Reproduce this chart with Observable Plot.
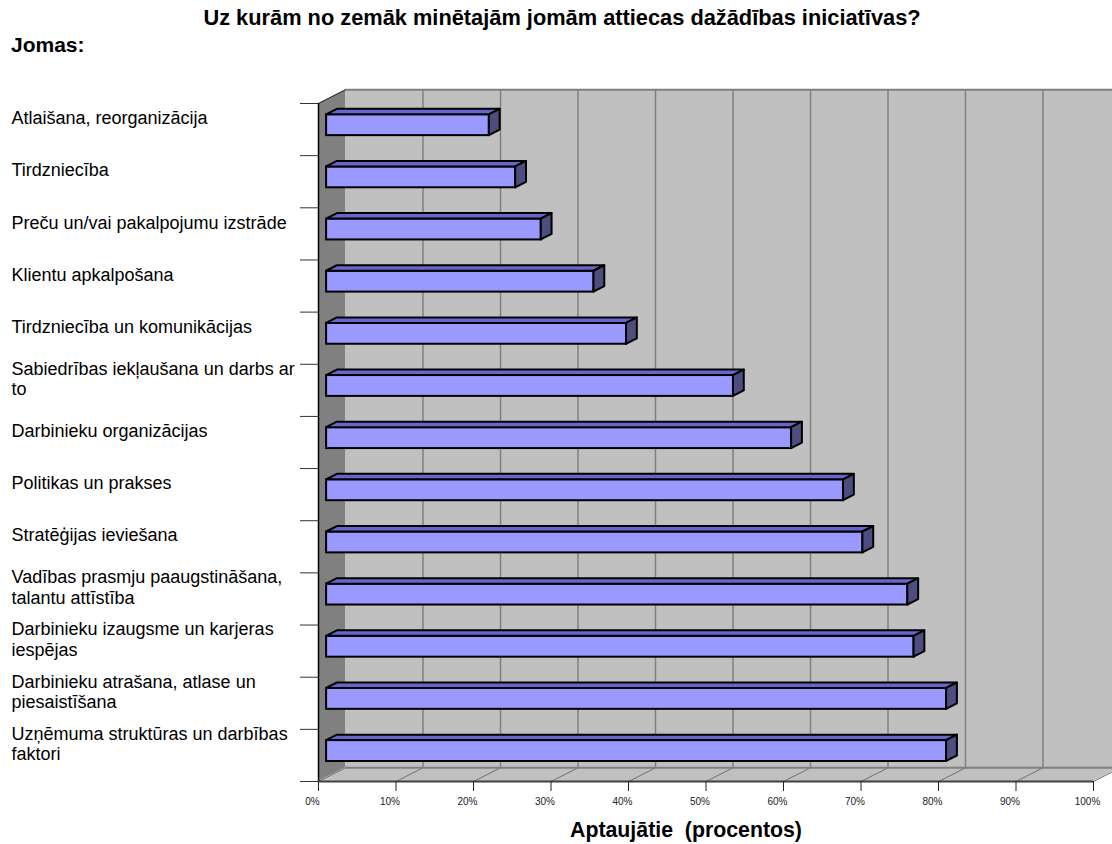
<!DOCTYPE html>
<html><head><meta charset="utf-8">
<script src="https://cdn.jsdelivr.net/npm/d3@7"></script>
<script src="https://cdn.jsdelivr.net/npm/@observablehq/plot@0.6"></script>
<style>
body{margin:0;background:#fff;font-family:"Liberation Sans",Arial,sans-serif;}
#wrap{position:relative;width:1112px;height:844px;overflow:hidden;}
#chart{position:absolute;left:0;top:0;}
#title{position:absolute;left:0;width:1124px;top:5px;text-align:center;font-weight:bold;font-size:21.8px;line-height:26px;}
#cat{position:absolute;left:11px;top:32px;font-weight:bold;font-size:21px;line-height:26px;}
#xlab{position:absolute;left:0;width:1372px;text-align:center;top:817px;font-weight:bold;font-size:21.3px;line-height:26px;white-space:pre;}
</style></head><body>
<div id="wrap">
<div id="chart"></div>
<div id="title">Uz kurām no zemāk minētajām jomām attiecas dažādības iniciatīvas?</div>
<div id="cat">Jomas:</div>
<div id="xlab">Aptaujātie  (procentos)</div>
</div>
<script>
const categories = [
  "Atlaišana, reorganizācija",
  "Tirdzniecība",
  "Preču un/vai pakalpojumu izstrāde",
  "Klientu apkalpošana",
  "Tirdzniecība un komunikācijas",
  "Sabiedrības iekļaušana un darbs ar to",
  "Darbinieku organizācijas",
  "Politikas un prakses",
  "Stratēģijas ieviešana",
  "Vadības prasmju paaugstināšana, talantu attīstība",
  "Darbinieku izaugsme un karjeras iespējas",
  "Darbinieku atrašana, atlase un piesaistīšana",
  "Uzņēmuma struktūras un darbības faktori"
];
const tickLabels = [
  "Atlaišana, reorganizācija",
  "Tirdzniecība",
  "Preču un/vai pakalpojumu izstrāde",
  "Klientu apkalpošana",
  "Tirdzniecība un komunikācijas",
  "Sabiedrības iekļaušana un darbs ar\nto",
  "Darbinieku organizācijas",
  "Politikas un prakses",
  "Stratēģijas ieviešana",
  "Vadības prasmju paaugstināšana,\ntalantu attīstība",
  "Darbinieku izaugsme un karjeras\niespējas",
  "Darbinieku atrašana, atlase un\npiesaistīšana",
  "Uzņēmuma struktūras un darbības\nfaktori"
];
const values = [21.0, 24.4, 27.7, 34.5, 38.7, 52.5, 60.0, 66.7, 69.2, 75.0, 75.8, 80.0, 80.0];
const xTicks = [0, 10, 20, 30, 40, 50, 60, 70, 80, 90, 100];

// 3D projection constants (in scale units)
const DX = 27 / 7.75;     // depth offset along x (percent units)
const DY = 13.7 / 52.15;  // depth offset along y (category units)
const F0 = 0.3, F1 = 0.7; // bar front/back depth fractions
const A = 0.295, B = 0.695; // bar extent inside its band
const N = categories.length;

const rows = categories.map((c, i) => ({c, i, v: values[i], label: tickLabels[i]}));

const topFace = rows.flatMap(d => [
  {c: d.c, x1: F0 * DX, y1: d.i + A - F0 * DY, x2: F1 * DX, y2: d.i + A - F1 * DY},
  {c: d.c, x1: d.v + F0 * DX, y1: d.i + A - F0 * DY, x2: d.v + F1 * DX, y2: d.i + A - F1 * DY}
]);
const sideFace = rows.flatMap(d => [
  {c: d.c, x1: d.v + F0 * DX, y1: d.i + A - F0 * DY, x2: d.v + F1 * DX, y2: d.i + A - F1 * DY},
  {c: d.c, x1: d.v + F0 * DX, y1: d.i + B - F0 * DY, x2: d.v + F1 * DX, y2: d.i + B - F1 * DY}
]);
const floor = [
  {x1: 0, y1: N, x2: DX, y2: N - DY},
  {x1: 100, y1: N, x2: 100 + DX, y2: N - DY}
];
const leftWall = [
  {x1: 0, y1: 0, x2: DX, y2: -DY},
  {x1: 0, y1: N, x2: DX, y2: N - DY}
];

const chart = Plot.plot({
  width: 1112,
  height: 844,
  marginLeft: 318,
  marginRight: 19,
  marginTop: 103,
  marginBottom: 63,
  style: {fontFamily: "'Liberation Sans', Arial, sans-serif", background: "transparent", overflow: "visible"},
  x: {domain: [0, 100], axis: null},
  y: {domain: [0, N], reverse: true, axis: null},
  marks: [
    // back wall
    Plot.rect([0], {x1: () => DX, x2: () => 110, y1: () => -DY, y2: () => N - DY, fill: "#c0c0c0"}),
    Plot.ruleY([-DY], {x1: DX, x2: 110, stroke: "#808080", strokeWidth: 2}),
    Plot.ruleX(xTicks.slice(1), {x: d => d + DX, y1: -DY, y2: N - DY, stroke: "#808080", strokeWidth: 1.5}),
    // floor
    Plot.area(floor, {x1: "x1", y1: "y1", x2: "x2", y2: "y2", fill: "#c0c0c0"}),
    Plot.link(xTicks, {x1: d => d, y1: N, x2: d => d + DX, y2: N - DY, stroke: "#707070", strokeWidth: 1}),
    Plot.ruleY([N - DY], {x1: DX, x2: 100 + DX, stroke: "#808080", strokeWidth: 2}),
    // left wall
    Plot.area(leftWall, {x1: "x1", y1: "y1", x2: "x2", y2: "y2", fill: "#808080"}),
    Plot.link([0], {x1: 0, y1: 0, x2: DX, y2: -DY, stroke: "#303030", strokeWidth: 1}),
    Plot.ruleX([0], {y1: 0, y2: N, stroke: "#000", strokeWidth: 1.5}),
    Plot.ruleY([N], {x1: 0, x2: 100, stroke: "#404040", strokeWidth: 2}),
    // axes
    Plot.axisY({ticks: d3.range(N + 1), tickSize: 18, tickFormat: () => "", label: null, stroke: "#333"}),
    Plot.axisX({ticks: xTicks, tickSize: 10, tickFormat: () => "", label: null, stroke: "#222"}),
    Plot.text(xTicks, {x: d => d, y: N, text: d => d + "%", dy: 20, dx: -6, fontSize: 10, fill: "#222"}),
    // bars
    Plot.rect(rows, {x1: () => F0 * DX, x2: d => d.v + F0 * DX, y1: d => d.i + A - F0 * DY, y2: d => d.i + B - F0 * DY,
      fill: "#9999ff", stroke: "#000", strokeWidth: 2}),
    Plot.area(topFace, {x1: "x1", y1: "y1", x2: "x2", y2: "y2", z: "c", fill: "#6666cc", stroke: "#000", strokeWidth: 2, strokeLinejoin: "round"}),
    Plot.area(sideFace, {x1: "x1", y1: "y1", x2: "x2", y2: "y2", z: "c", fill: "#4d4d80", stroke: "#000", strokeWidth: 2, strokeLinejoin: "round"}),
    // category labels
    Plot.text(rows, {y: d => d.i + 0.5, text: "label", frameAnchor: "left", dx: -307, dy: -12,
      textAnchor: "start", fontSize: 18, lineHeight: 1.15, fill: "#000"})
  ]
});
document.getElementById("chart").appendChild(chart);
</script>
</body></html>
